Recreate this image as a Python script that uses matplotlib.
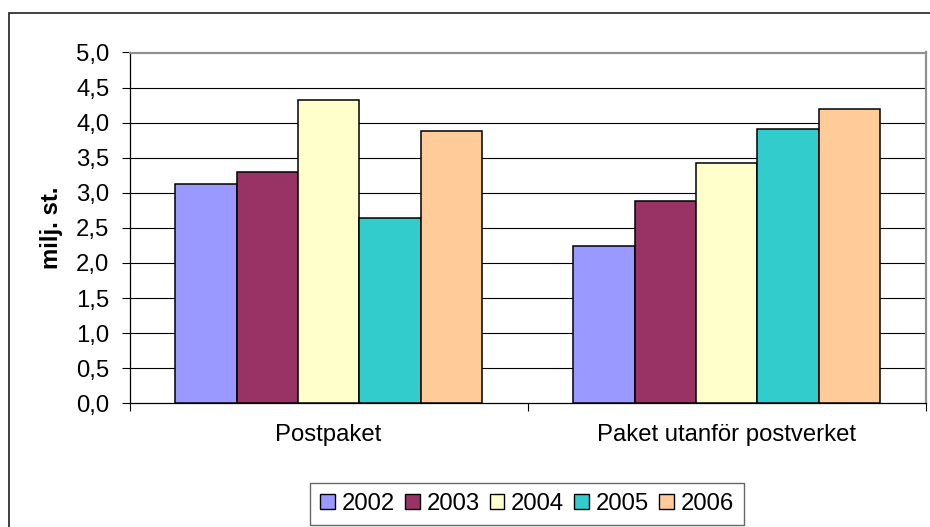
import matplotlib
matplotlib.use("Agg")
import matplotlib.pyplot as plt
import numpy as np
from matplotlib.patches import Rectangle, Patch

plt.rcParams['font.family'] = ['Liberation Sans', 'DejaVu Sans']

# Data
categories = ['Postpaket', 'Paket utanför postverket']
years = ['2002', '2003', '2004', '2005', '2006']
values_2002 = [3.13, 2.24]
values_2003 = [3.29, 2.88]
values_2004 = [4.33, 3.42]
values_2005 = [2.64, 3.91]
values_2006 = [3.88, 4.20]
series = [values_2002, values_2003, values_2004, values_2005, values_2006]
colors = ['#9999FF', '#993366', '#FFFFCC', '#33CCCC', '#FFCC99']
yticks = [0.0, 0.5, 1.0, 1.5, 2.0, 2.5, 3.0, 3.5, 4.0, 4.5, 5.0]
ytick_labels = ['0,0', '0,5', '1,0', '1,5', '2,0', '2,5', '3,0', '3,5', '4,0', '4,5', '5,0']
ylabel = 'milj. st.'

W, H = 930, 527
fig = plt.figure(figsize=(W / 100, H / 100), dpi=100)
fs = 17.2

# outer chart frame (cropped at right and bottom)
fig.patches.append(Rectangle((9 / W, -0.1), 1.2, 1 - 12.7 / H + 0.1, transform=fig.transFigure,
                             fill=False, edgecolor='#303030', linewidth=1.3, clip_on=False))

ax = fig.add_axes([129.5 / W, 1 - 403.3 / H, (925.7 - 129.5) / W, (403.3 - 52.5) / H])

x = np.arange(len(categories))
bw = 0.154
for i, (vals, c) in enumerate(zip(series, colors)):
    ax.bar(x + (i - 2) * bw, vals, width=bw, color=c, edgecolor='black', linewidth=1.1,
           zorder=3, label=years[i])

ax.set_xlim(-0.5, 1.5)
ax.set_ylim(0, 5)

# gridlines (top edge is the gray plot-area border)
for yv in yticks[1:-1]:
    ax.axhline(yv, color='black', linewidth=0.8, zorder=1)

ax.set_yticks(yticks)
ax.set_yticklabels(ytick_labels, fontsize=fs)
ax.set_xticks([-0.5, 0.5, 1.5])
ax.set_xticklabels([])
ax.set_xticks(x, minor=True)
ax.set_xticklabels(categories, minor=True, fontsize=fs)
ax.tick_params(axis='x', which='minor', length=0, pad=15)
ax.tick_params(axis='x', which='major', length=6, width=0.8, direction='out')
ax.tick_params(axis='y', length=6, width=0.8, direction='out', pad=8.5)

for s in ['left', 'bottom']:
    ax.spines[s].set_color('black')
    ax.spines[s].set_linewidth(0.9)
for s in ['top', 'right']:
    ax.spines[s].set_color('#909090')
    ax.spines[s].set_linewidth(1.6)

ax.set_ylabel(ylabel, fontsize=fs, fontweight='bold')
ax.yaxis.set_label_coords(-0.0835, 0.5)

handles = [Patch(facecolor=c, edgecolor='black', linewidth=1.0) for c in colors]
leg = fig.legend(handles, years, loc='center', bbox_to_anchor=(527 / W, 1 - 504 / H),
                 ncol=5, fontsize=fs, frameon=True, fancybox=False, handlelength=0.61,
                 handleheight=0.61, handletextpad=0.29, columnspacing=0.42, borderpad=0.42)
leg.get_frame().set_edgecolor('#404040')
leg.get_frame().set_linewidth(1.0)

fig.savefig('out.png', dpi=100)
